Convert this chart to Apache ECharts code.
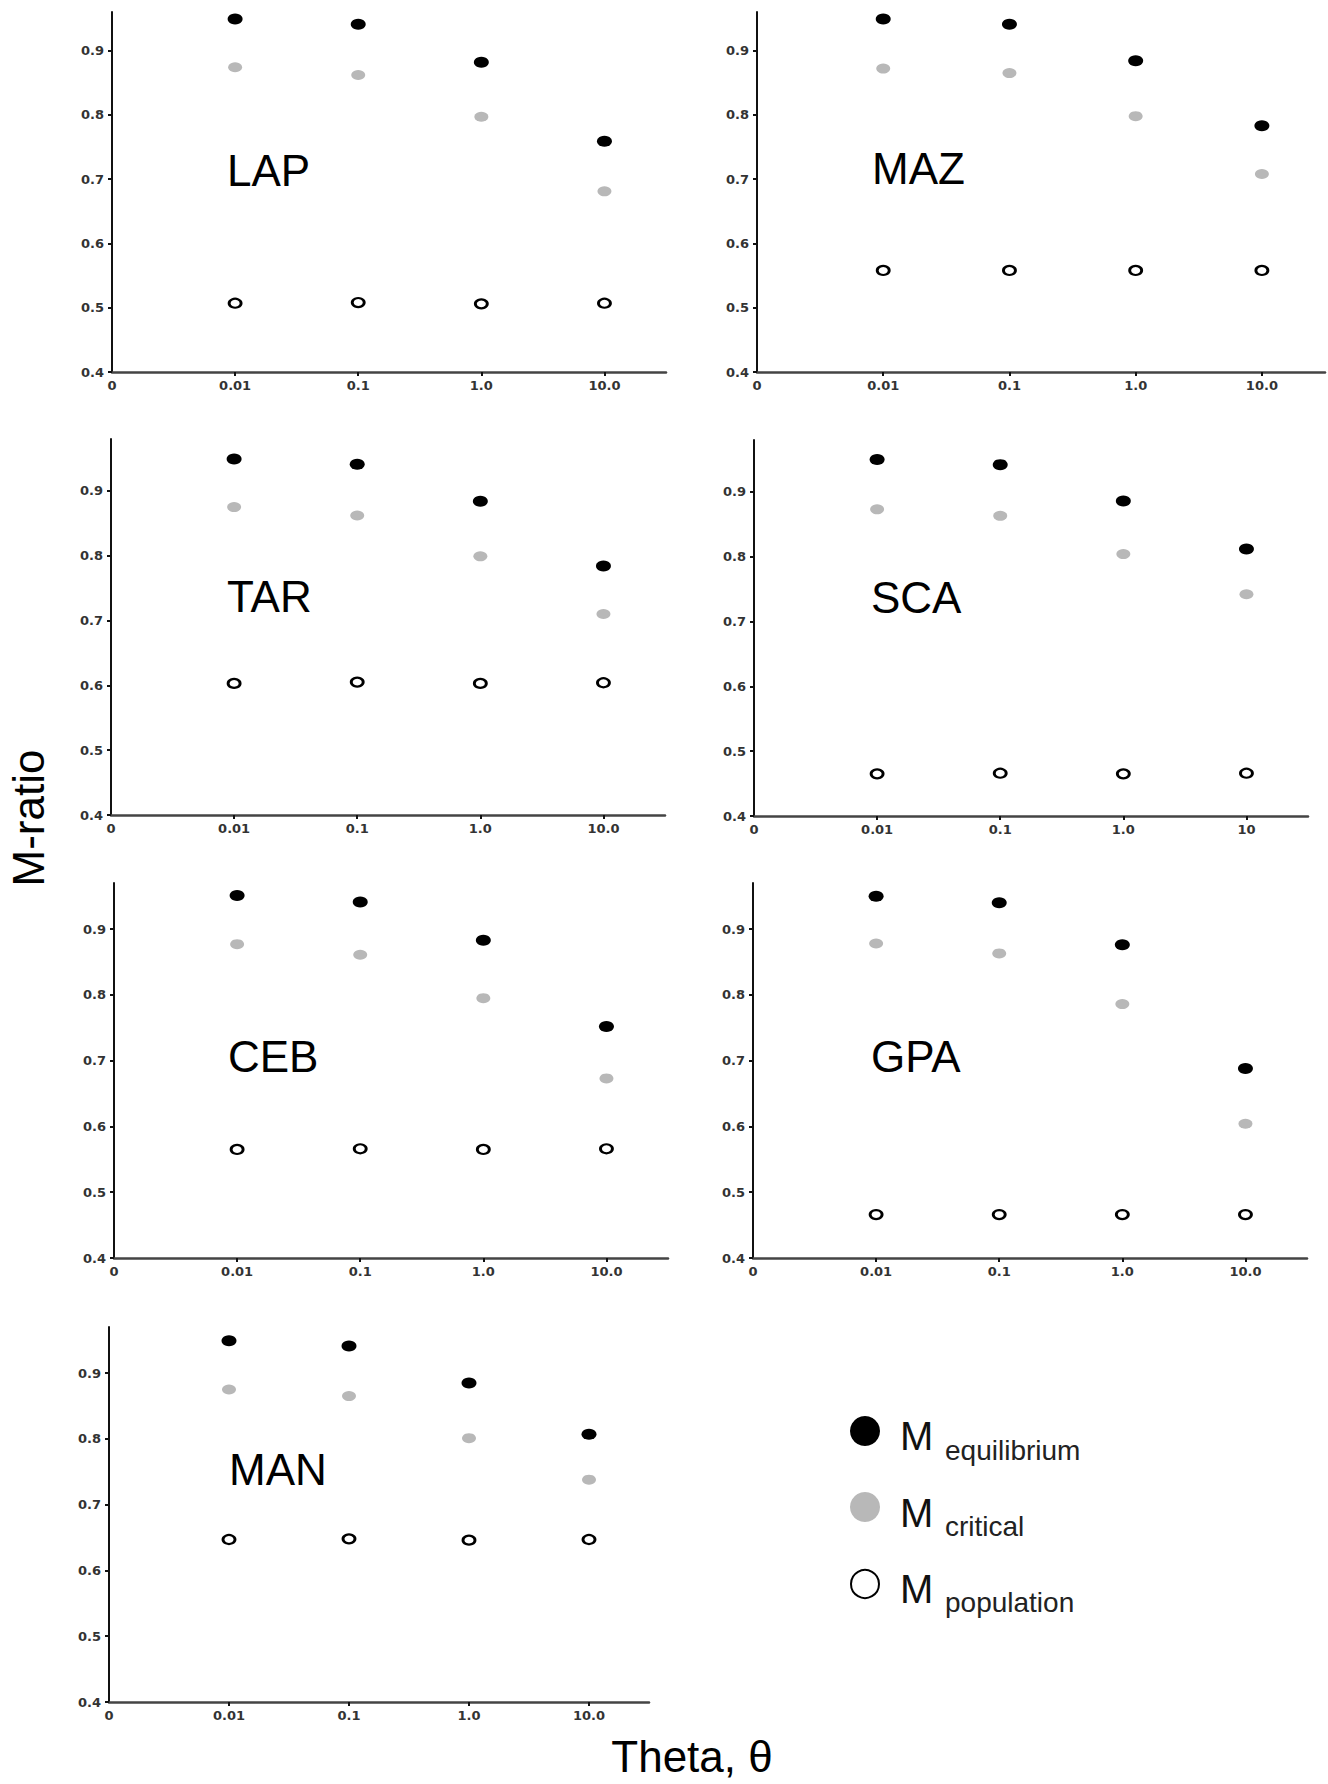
<!DOCTYPE html>
<html>
<head>
<meta charset="utf-8">
<script src="https://cdn.jsdelivr.net/npm/echarts@6/dist/echarts.min.js"></script>
<style>
  html, body { margin: 0; padding: 0; background: #ffffff; }
  #chart { width: 1328px; height: 1784px; }
</style>
</head>
<body>
<div id="chart"></div>
<script>
// ---------- data ----------
const panelNames = ['LAP', 'MAZ', 'TAR', 'SCA', 'CEB', 'GPA', 'MAN'];
const thetaLabels = ['0', '0.01', '0.1', '1.0', '10.0'];
const thetaLabelsSCA = ['0', '0.01', '0.1', '1.0', '10'];
const yTickValues = [0.4, 0.5, 0.6, 0.7, 0.8, 0.9];

// one row per panel (order of panelNames), one value per theta (0.01, 0.1, 1.0, 10.0)
const mEquilibrium = [
  [0.949, 0.941, 0.882, 0.759],
  [0.949, 0.941, 0.884, 0.783],
  [0.949, 0.941, 0.884, 0.784],
  [0.950, 0.942, 0.886, 0.812],
  [0.951, 0.941, 0.883, 0.752],
  [0.950, 0.940, 0.876, 0.688],
  [0.949, 0.941, 0.885, 0.807]
];
const mCritical = [
  [0.874, 0.862, 0.797, 0.681],
  [0.872, 0.865, 0.798, 0.708],
  [0.875, 0.862, 0.799, 0.710],
  [0.873, 0.863, 0.804, 0.742],
  [0.877, 0.861, 0.795, 0.673],
  [0.878, 0.863, 0.786, 0.604],
  [0.875, 0.865, 0.801, 0.738]
];
const mPopulation = [
  [0.507, 0.508, 0.506, 0.507],
  [0.558, 0.558, 0.558, 0.558],
  [0.603, 0.605, 0.603, 0.604],
  [0.465, 0.466, 0.465, 0.466],
  [0.565, 0.566, 0.565, 0.566],
  [0.466, 0.466, 0.466, 0.466],
  [0.647, 0.648, 0.646, 0.647]
];

// ---------- layout (pixels) ----------
const layout = [
  { left: 112, top: 12,   width: 554, height: 360, ymax: 0.96, lx: 227, ly: 170 },
  { left: 757, top: 12,   width: 568, height: 360, ymax: 0.96, lx: 872, ly: 168 },
  { left: 111, top: 439,  width: 554, height: 376, ymax: 0.98, lx: 227, ly: 596 },
  { left: 754, top: 440,  width: 554, height: 376, ymax: 0.98, lx: 871, ly: 597 },
  { left: 114, top: 883,  width: 554, height: 375, ymax: 0.97, lx: 228, ly: 1056 },
  { left: 753, top: 883,  width: 554, height: 375, ymax: 0.97, lx: 871, ly: 1056 },
  { left: 109, top: 1327, width: 540, height: 375, ymax: 0.97, lx: 229, ly: 1469 }
];

const BLACK = '#000000';
const GREY = '#b8b8b8';
const tickFont = { fontFamily: 'DejaVu Sans', fontWeight: 'bold', fontSize: 13, color: '#333333' };

const grids = [], xAxes = [], yAxes = [], series = [], graphics = [];

layout.forEach((l, i) => {
  grids.push({ left: l.left, top: l.top, width: l.width, height: l.height });
  const xl = panelNames[i] === 'SCA' ? thetaLabelsSCA : thetaLabels;
  xAxes.push({
    gridIndex: i, type: 'value', min: 0, max: 4.5,
    axisLine: { show: true, onZero: false, lineStyle: { color: '#444444', width: 2.5 } },
    axisTick: { show: true, customValues: [1, 2, 3, 4], length: 4, lineStyle: { color: '#111111', width: 2 } },
    axisLabel: Object.assign({ customValues: [0, 1, 2, 3, 4], margin: 7, formatter: v => xl[Math.round(v)] }, tickFont),
    splitLine: { show: false }
  });
  yAxes.push({
    gridIndex: i, type: 'value', min: 0.4, max: l.ymax, interval: 0.1,
    axisLine: { show: true, onZero: false, lineStyle: { color: '#111111', width: 2 } },
    axisTick: { show: true, customValues: yTickValues, length: 4, lineStyle: { color: '#111111', width: 2 } },
    axisLabel: Object.assign({ customValues: yTickValues, margin: 8, formatter: v => v.toFixed(1) }, tickFont),
    splitLine: { show: false }
  });
  const toPts = arr => arr.map((v, j) => [j + 1, v]);
  series.push({
    name: 'M equilibrium', type: 'scatter', xAxisIndex: i, yAxisIndex: i,
    symbol: 'circle', symbolSize: [15, 11],
    itemStyle: { color: BLACK, opacity: 1 },
    data: toPts(mEquilibrium[i])
  });
  series.push({
    name: 'M critical', type: 'scatter', xAxisIndex: i, yAxisIndex: i,
    symbol: 'circle', symbolSize: [14, 10],
    itemStyle: { color: GREY, opacity: 1 },
    data: toPts(mCritical[i])
  });
  series.push({
    name: 'M population', type: 'scatter', xAxisIndex: i, yAxisIndex: i,
    symbol: 'circle', symbolSize: [12, 9],
    itemStyle: { color: '#ffffff', borderColor: BLACK, borderWidth: 2.5, opacity: 1 },
    data: toPts(mPopulation[i])
  });
  graphics.push({
    type: 'text', left: l.lx, top: l.ly - 22, silent: true,
    style: { text: panelNames[i], font: '44px "Liberation Sans", Arial, sans-serif', fill: '#000000' }
  });
});

// legend (drawn as graphics)
const legendRows = [
  { sub: 'equilibrium', fill: BLACK, stroke: null, cy: 1431, my: 1436, sy: 1450 },
  { sub: 'critical', fill: GREY, stroke: null, cy: 1507, my: 1513, sy: 1526 },
  { sub: 'population', fill: '#ffffff', stroke: BLACK, cy: 1584, my: 1589, sy: 1602 }
];
legendRows.forEach(r => {
  graphics.push({
    type: 'circle', silent: true,
    shape: { cx: 865, cy: r.cy, r: r.stroke ? 14 : 15 },
    style: { fill: r.fill, stroke: r.stroke || null, lineWidth: 2 }
  });
  graphics.push({
    type: 'text', silent: true,
    style: { x: 900, y: r.my, text: 'M', font: '40px "Liberation Sans", Arial, sans-serif', fill: '#111111', verticalAlign: 'middle', textVerticalAlign: 'middle' }
  });
  graphics.push({
    type: 'text', silent: true,
    style: { x: 945, y: r.sy, text: r.sub, font: '28px "Liberation Sans", Arial, sans-serif', fill: '#222222', verticalAlign: 'middle', textVerticalAlign: 'middle' }
  });
});

// axis titles
graphics.push({
  type: 'text', silent: true, x: 28, y: 818, rotation: Math.PI / 2,
  style: { x: 0, y: 0, text: 'M-ratio', font: '44px "Liberation Sans", Arial, sans-serif', fill: '#000000', align: 'center', verticalAlign: 'middle', textAlign: 'center', textVerticalAlign: 'middle' }
});
graphics.push({
  type: 'text', silent: true,
  style: { x: 692, y: 1756, text: 'Theta, \u03B8', font: '44px "Liberation Sans", Arial, sans-serif', fill: '#000000', align: 'center', verticalAlign: 'middle', textAlign: 'center', textVerticalAlign: 'middle' }
});

const chart = echarts.init(document.getElementById('chart'), null, { renderer: 'svg', width: 1328, height: 1784 });
chart.setOption({
  backgroundColor: '#ffffff',
  animation: false,
  grid: grids,
  xAxis: xAxes,
  yAxis: yAxes,
  series: series,
  graphic: graphics
});
</script>
</body>
</html>
